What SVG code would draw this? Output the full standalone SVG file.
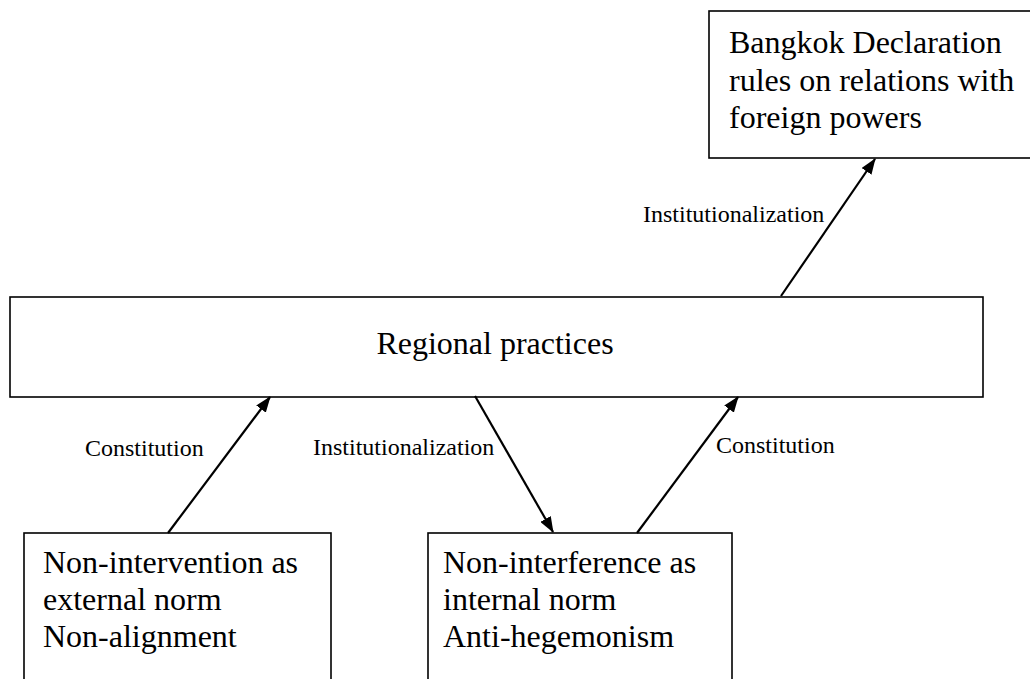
<svg xmlns="http://www.w3.org/2000/svg" width="1030" height="679" viewBox="0 0 1030 679">
<style>
.box{fill:#fff;stroke:#000;stroke-width:1.6}
.big{font-family:"Liberation Serif","Times New Roman",serif;font-size:32px;fill:#000}
.lbl{font-family:"Liberation Serif","Times New Roman",serif;font-size:24px;fill:#000}
.conn line{stroke:#000;stroke-width:2.2;marker-end:url(#ah)}
</style>
<defs>
<marker id="ah" markerUnits="userSpaceOnUse" markerWidth="16" markerHeight="12" refX="15" refY="6" orient="auto">
<path d="M0,0 L16,6 L0,12 Z" fill="#000"/>
</marker>
</defs>
<rect width="1030" height="679" fill="#fff"/>
<g id="bangkok">
<rect class="box" x="709" y="11" width="340" height="147"/>
<text class="big" x="729" y="53">Bangkok Declaration</text>
<text class="big" x="729" y="91">rules on relations with</text>
<text class="big" x="729" y="128">foreign powers</text>
</g>
<g id="regional">
<rect class="box" x="10" y="297" width="973" height="100"/>
<text class="big" x="495" y="354" text-anchor="middle">Regional practices</text>
</g>
<g id="nonintervention">
<rect class="box" x="24" y="533" width="307" height="170"/>
<text class="big" x="43" y="573">Non-intervention as</text>
<text class="big" x="43" y="610">external norm</text>
<text class="big" x="43" y="647">Non-alignment</text>
</g>
<g id="noninterference">
<rect class="box" x="428" y="533" width="304" height="170"/>
<text class="big" x="443" y="573">Non-interference as</text>
<text class="big" x="443" y="610">internal norm</text>
<text class="big" x="443" y="647">Anti-hegemonism</text>
</g>
<g id="connectors" class="conn">
<line x1="168" y1="533" x2="270" y2="397"/>
<line x1="475" y1="396" x2="553" y2="532"/>
<line x1="637" y1="533" x2="738" y2="397"/>
<line x1="781" y1="296" x2="875" y2="159"/>
</g>
<g id="labels">
<text class="lbl" x="85" y="456">Constitution</text>
<text class="lbl" x="313" y="455">Institutionalization</text>
<text class="lbl" x="716" y="453">Constitution</text>
<text class="lbl" x="643" y="222">Institutionalization</text>
</g>
</svg>
